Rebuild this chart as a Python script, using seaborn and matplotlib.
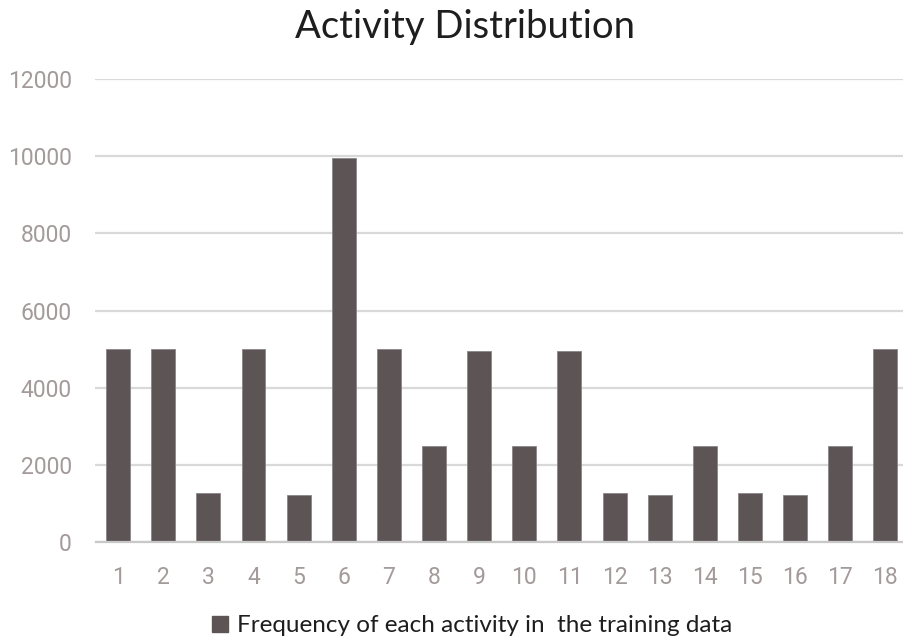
import matplotlib
matplotlib.use("Agg")
import matplotlib.pyplot as plt
import seaborn as sns
import pandas as pd
from matplotlib.patches import Patch

activities = [str(i) for i in range(1, 19)]
frequency = [5000, 5000, 1285, 5000, 1225, 9955, 5000, 2500, 4950,
             2500, 4950, 1285, 1225, 2500, 1285, 1225, 2500, 5000]
y_ticks = [0, 2000, 4000, 6000, 8000, 10000, 12000]
title = "Activity Distribution"
legend_label = "Frequency of each activity in  the training data"

sns.set_theme(style="white")
plt.rcParams['font.family'] = ['Lato', 'DejaVu Sans']

bar_color = "#5d5456"
tick_color = "#a39a9a"
grid_color = "#d9d9d9"

df = pd.DataFrame({"activity": activities, "frequency": frequency})

fig = plt.figure(figsize=(9.04, 6.42), dpi=100)
ax = fig.add_axes([95.5 / 904, 99.7 / 642, (908 - 95.5) / 904, (542.3 - 79) / 642])

sns.barplot(data=df, x="activity", y="frequency", color=bar_color,
            width=0.53, ax=ax, saturation=1, edgecolor="#8a8486", linewidth=0.6)

ax.set_ylim(0, 12000)
ax.set_yticks(y_ticks)
ax.set_xlabel("")
ax.set_ylabel("")
ax.yaxis.grid(True, color=grid_color, linewidth=1.6)
ax.set_axisbelow(True)
for s in ["top", "right", "left"]:
    ax.spines[s].set_visible(False)
ax.spines["bottom"].set_color("#c8c8c8")
ax.spines["bottom"].set_linewidth(1.6)
ax.tick_params(axis="both", length=0, colors=tick_color, labelsize=16.5)
ax.tick_params(axis="y", pad=17)
ax.tick_params(axis="x", pad=17)
for lab in ax.get_xticklabels() + ax.get_yticklabels():
    lab.set_fontfamily(['Roboto', 'DejaVu Sans'])
    lab.set_color(tick_color)

fig.text(465 / 904, 1 - 27 / 642, title, ha="center", va="center",
         fontsize=27.5, color="#1e1e1e")

handles = [Patch(facecolor=bar_color, edgecolor=bar_color, label=legend_label)]
fig.legend(handles=handles, loc="center", bbox_to_anchor=(472 / 904, 1 - 626 / 642),
           frameon=False, fontsize=17.5, handlelength=0.65, handleheight=0.65,
           handletextpad=0.35, labelcolor="#1e1e1e")

fig.savefig("out.png", dpi=100, facecolor="white")
